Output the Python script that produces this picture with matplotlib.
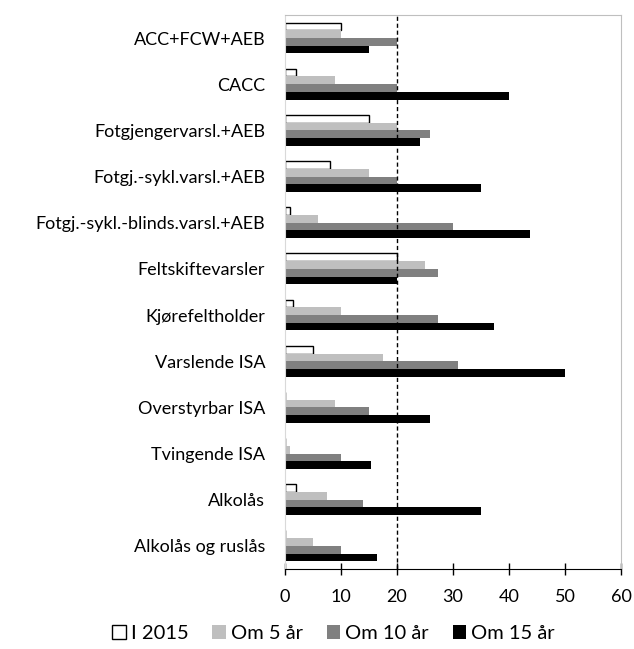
import numpy as np
import matplotlib
matplotlib.use("Agg")
import matplotlib.pyplot as plt

plt.rcParams['font.family'] = ['Lato', 'DejaVu Sans']

categories = ["ACC+FCW+AEB", "CACC", "Fotgjengervarsl.+AEB", "Fotgj.-sykl.varsl.+AEB",
              "Fotgj.-sykl.-blinds.varsl.+AEB", "Feltskiftevarsler", "Kjørefeltholder",
              "Varslende ISA", "Overstyrbar ISA", "Tvingende ISA", "Alkolås", "Alkolås og ruslås"]
series_names = ["I 2015", "Om 5 år", "Om 10 år", "Om 15 år"]
i2015 = [10, 2, 15, 8, 1, 20, 1.5, 5, 0, 0, 2, 0]
om5 = [10, 9, 20, 15, 6, 25, 10, 17.5, 9, 1, 7.5, 5]
om10 = [20, 20, 26, 20, 30, 27.4, 27.4, 30.9, 15, 10, 14, 10]
om15 = [15, 40, 24.1, 35, 43.7, 20, 37.4, 50, 26, 15.4, 35, 16.4]
xticks = [0, 10, 20, 30, 40, 50, 60]

fig = plt.figure(figsize=(6.34, 6.49), dpi=100)
ax = fig.add_axes([0.449, 0.1233, 0.5305, 0.8537])

y = np.arange(len(categories))
h = 0.1667
styles = [dict(color="white", edgecolor="black", linewidth=1.0),
          dict(color="#bfbfbf", linewidth=0),
          dict(color="#808080", linewidth=0),
          dict(color="black", linewidth=0)]
for k, (vals, name) in enumerate(zip([i2015, om5, om10, om15], series_names)):
    ax.barh(y + (k - 1.5) * h, vals, height=h, label=name, **styles[k])

ax.axvline(20, color="black", lw=1, ls=(0, (3, 2)), zorder=3)

ax.set_xlim(0, 60)
ax.set_ylim(len(categories) - 0.5, -0.5)
ax.set_xticks(xticks)
ax.set_yticks(y)
ax.set_yticklabels(categories, fontsize=13)
ax.tick_params(axis="y", length=0, pad=14)
ax.tick_params(axis="x", direction="inout", length=9, width=1, labelsize=13, pad=10)

for s in ["top", "right"]:
    ax.spines[s].set_color("#bfbfbf")
    ax.spines[s].set_linestyle((0, (1, 1)))
    ax.spines[s].set_linewidth(0.8)
ax.spines["left"].set_color("#d9d9d9")
ax.spines["bottom"].set_color("black")

ax.legend(loc="upper center", bbox_to_anchor=(0.145, -0.083), ncol=4, frameon=False,
          fontsize=14.5, handlelength=0.65, handleheight=0.65, handletextpad=0.25,
          columnspacing=1.2, borderpad=0)

fig.savefig("out.png", dpi=100)
